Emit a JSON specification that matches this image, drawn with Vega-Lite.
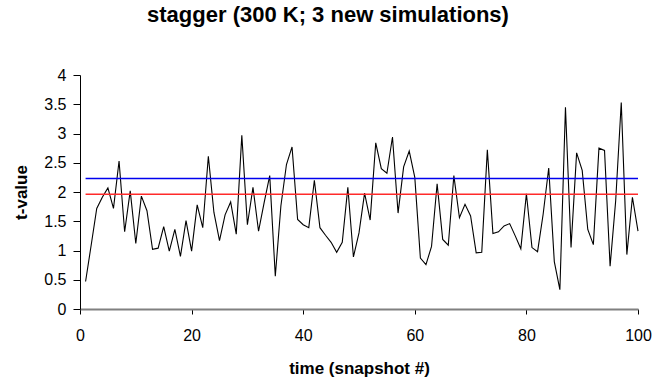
{
  "$schema": "https://vega.github.io/schema/vega-lite/v6.json",
  "width": 558,
  "height": 234,
  "autosize": {"type": "none"},
  "padding": {"left": 80, "top": 75, "right": 18, "bottom": 72},
  "background": "white",
  "config": {
    "view": {"stroke": null},
    "font": "Liberation Sans",
    "axis": {
      "grid": false,
      "tickColor": "#000000",
      "labelFont": "Liberation Sans",
      "labelFontSize": 16,
      "labelColor": "#000000",
      "labelFlush": false,
      "labelOverlap": false,
      "titleFont": "Liberation Sans",
      "titleFontSize": 17,
      "titleFontWeight": "bold",
      "titleColor": "#000000"
    },
    "axisX": {"domainColor": "#808080", "domainWidth": 2, "tickSize": 5, "labelPadding": 13, "titlePadding": 17},
    "axisY": {"domainColor": "#000000", "domainWidth": 1, "tickSize": 7, "labelPadding": 7, "titlePadding": 13}
  },
  "title": {
    "text": "stagger (300 K; 3 new simulations)",
    "fontSize": 22,
    "font": "Liberation Sans",
    "fontWeight": "bold",
    "color": "#000000",
    "anchor": "middle",
    "dx": -31,
    "offset": 40
  },
  "datasets": {
    "series": [
      {"snapshot": 1, "t": 0.47}, {"snapshot": 2, "t": 1.09}, {"snapshot": 3, "t": 1.72}, {"snapshot": 4, "t": 1.91}, {"snapshot": 5, "t": 2.07},
      {"snapshot": 6, "t": 1.72}, {"snapshot": 7, "t": 2.53}, {"snapshot": 8, "t": 1.32}, {"snapshot": 9, "t": 2.02}, {"snapshot": 10, "t": 1.12},
      {"snapshot": 11, "t": 1.93}, {"snapshot": 12, "t": 1.68}, {"snapshot": 13, "t": 1.02}, {"snapshot": 14, "t": 1.04}, {"snapshot": 15, "t": 1.41},
      {"snapshot": 16, "t": 0.99}, {"snapshot": 17, "t": 1.36}, {"snapshot": 18, "t": 0.90}, {"snapshot": 19, "t": 1.51}, {"snapshot": 20, "t": 0.99},
      {"snapshot": 21, "t": 1.78}, {"snapshot": 22, "t": 1.39}, {"snapshot": 23, "t": 2.61}, {"snapshot": 24, "t": 1.65}, {"snapshot": 25, "t": 1.17},
      {"snapshot": 26, "t": 1.61}, {"snapshot": 27, "t": 1.83}, {"snapshot": 28, "t": 1.28}, {"snapshot": 29, "t": 2.97}, {"snapshot": 30, "t": 1.44},
      {"snapshot": 31, "t": 2.08}, {"snapshot": 32, "t": 1.33}, {"snapshot": 33, "t": 1.82}, {"snapshot": 34, "t": 2.28}, {"snapshot": 35, "t": 0.56},
      {"snapshot": 36, "t": 1.76}, {"snapshot": 37, "t": 2.47}, {"snapshot": 38, "t": 2.77}, {"snapshot": 39, "t": 1.53}, {"snapshot": 40, "t": 1.44},
      {"snapshot": 41, "t": 1.39}, {"snapshot": 42, "t": 2.20}, {"snapshot": 43, "t": 1.39}, {"snapshot": 44, "t": 1.26}, {"snapshot": 45, "t": 1.14},
      {"snapshot": 46, "t": 0.97}, {"snapshot": 47, "t": 1.14}, {"snapshot": 48, "t": 2.08}, {"snapshot": 49, "t": 0.89}, {"snapshot": 50, "t": 1.30},
      {"snapshot": 51, "t": 1.98}, {"snapshot": 52, "t": 1.52}, {"snapshot": 53, "t": 2.84}, {"snapshot": 54, "t": 2.40}, {"snapshot": 55, "t": 2.32},
      {"snapshot": 56, "t": 2.94}, {"snapshot": 57, "t": 1.64}, {"snapshot": 58, "t": 2.43}, {"snapshot": 59, "t": 2.70}, {"snapshot": 60, "t": 2.25},
      {"snapshot": 61, "t": 0.87}, {"snapshot": 62, "t": 0.76}, {"snapshot": 63, "t": 1.07}, {"snapshot": 64, "t": 2.14}, {"snapshot": 65, "t": 1.19},
      {"snapshot": 66, "t": 1.09}, {"snapshot": 67, "t": 2.28}, {"snapshot": 68, "t": 1.56}, {"snapshot": 69, "t": 1.79}, {"snapshot": 70, "t": 1.59},
      {"snapshot": 71, "t": 0.96}, {"snapshot": 72, "t": 0.97}, {"snapshot": 73, "t": 2.72}, {"snapshot": 74, "t": 1.29}, {"snapshot": 75, "t": 1.32},
      {"snapshot": 76, "t": 1.42}, {"snapshot": 77, "t": 1.46}, {"snapshot": 78, "t": 1.25}, {"snapshot": 79, "t": 1.03}, {"snapshot": 80, "t": 1.97},
      {"snapshot": 81, "t": 1.05}, {"snapshot": 82, "t": 0.98}, {"snapshot": 83, "t": 1.62}, {"snapshot": 84, "t": 2.41}, {"snapshot": 85, "t": 0.81},
      {"snapshot": 86, "t": 0.33}, {"snapshot": 87, "t": 3.45}, {"snapshot": 88, "t": 1.05}, {"snapshot": 89, "t": 2.67}, {"snapshot": 90, "t": 2.37},
      {"snapshot": 91, "t": 1.36}, {"snapshot": 92, "t": 1.10}, {"snapshot": 93, "t": 2.75}, {"snapshot": 94, "t": 2.71}, {"snapshot": 95, "t": 0.73},
      {"snapshot": 96, "t": 1.85}, {"snapshot": 97, "t": 3.53}, {"snapshot": 98, "t": 0.93}, {"snapshot": 99, "t": 1.91}, {"snapshot": 100, "t": 1.33}
    ],
    "thresholds": [
      {"level": "upper", "t": 2.23, "start": 1, "end": 100},
      {"level": "lower", "t": 1.96, "start": 1, "end": 100}
    ]
  },
  "layer": [
    {
      "data": {"name": "series"},
      "mark": {"type": "line", "color": "#000000", "strokeWidth": 1.1},
      "encoding": {
        "x": {
          "field": "snapshot",
          "type": "quantitative",
          "scale": {"domain": [0, 100], "nice": false},
          "axis": {"title": "time (snapshot #)", "values": [0, 20, 40, 60, 80, 100]}
        },
        "y": {
          "field": "t",
          "type": "quantitative",
          "scale": {"domain": [0, 4], "nice": false},
          "axis": {"title": "t-value", "values": [0, 0.5, 1, 1.5, 2, 2.5, 3, 3.5, 4], "format": "~g"}
        }
      }
    },
    {
      "data": {"name": "thresholds"},
      "mark": {"type": "rule", "strokeWidth": 1.5},
      "encoding": {
        "x": {
          "field": "start",
          "type": "quantitative",
          "axis": {"title": "time (snapshot #)", "values": [0, 20, 40, 60, 80, 100]}
        },
        "x2": {"field": "end"},
        "y": {
          "field": "t",
          "type": "quantitative",
          "axis": {"title": "t-value", "values": [0, 0.5, 1, 1.5, 2, 2.5, 3, 3.5, 4], "format": "~g"}
        },
        "color": {
          "field": "level",
          "type": "nominal",
          "scale": {"domain": ["upper", "lower"], "range": ["#0000ee", "#ff2a2a"]},
          "legend": null
        }
      }
    }
  ]
}
